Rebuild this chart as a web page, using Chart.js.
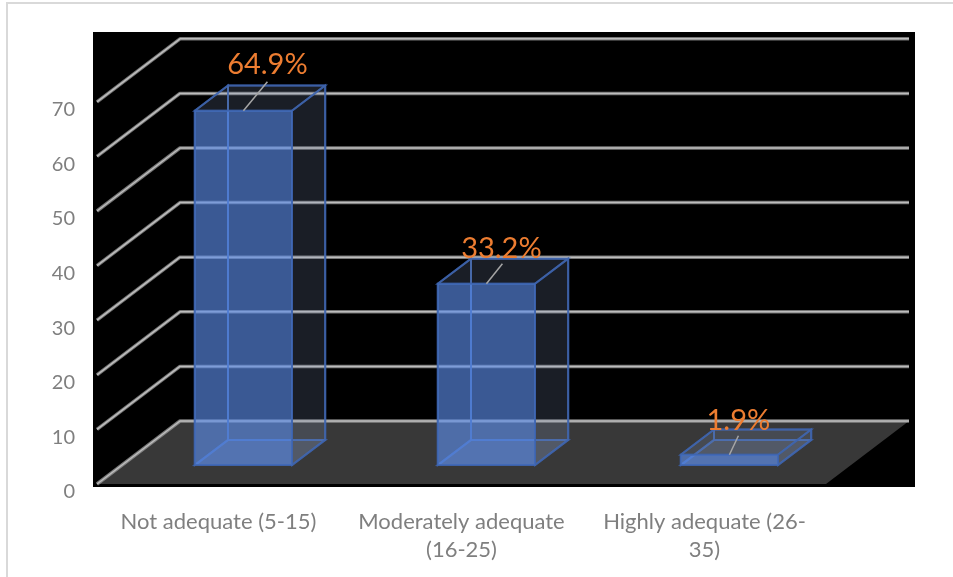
<!DOCTYPE html>
<html>
<head>
<meta charset="utf-8">
<style>
  html, body { margin: 0; padding: 0; background: #fff; }
  #wrap { position: relative; width: 953px; height: 577px; overflow: hidden; }
  #chart { display: block; }
</style>
<script src="https://cdn.jsdelivr.net/npm/chart.js@4"></script>
</head>
<body>
<div id="wrap"><canvas id="chart" width="953" height="577"></canvas></div>
<script>
const categories = [
  'Not adequate (5-15)',
  ['Moderately adequate', '(16-25)'],
  ['Highly adequate (26-', '35)'],
];
const percentValues = [64.9, 33.2, 1.9];
const valueLabels = ['64.9%', '33.2%', '1.9%'];
const axisTicks = ['0', '10', '20', '30', '40', '50', '60', '70'];

// how far the label sits from the middle of the bar's front top edge
const leaderEnds = [[24, -29], [16, -20], [9, -19]];
const labelCentres = [[24, -46], [15, -35], [9, -34]];

// floor depth in pixels, bars stand between these two depth fractions
const DEPTH_X = 83;
const DEPTH_Y = 63;
const BAR_FRONT = 0.3;
const BAR_BACK = 0.7;

const SIDE_FILL = 'rgba(130, 150, 190, 0.2)';
const FRONT_FILL = 'rgba(90, 140, 231, 0.64)';
const EDGE = 'rgba(62, 100, 175, 0.75)';

function poly(ctx, points, fill, stroke) {
  ctx.beginPath();
  points.forEach((p, i) => (i ? ctx.lineTo(p[0], p[1]) : ctx.moveTo(p[0], p[1])));
  ctx.closePath();
  if (fill) {
    ctx.fillStyle = fill;
    ctx.fill();
  }
  if (stroke) {
    ctx.strokeStyle = stroke;
    ctx.lineWidth = 2;
    ctx.stroke();
  }
}

const stagePlugin = {
  id: 'stage',
  beforeDatasetsDraw(chart) {
    const { ctx, chartArea: area, scales: { y } } = chart;
    ctx.save();

    // page frame
    ctx.fillStyle = '#d9d9d9';
    ctx.fillRect(6, 2, 947, 2);
    ctx.fillRect(6, 2, 2, 575);

    ctx.fillStyle = '#000';
    ctx.fillRect(93, 32, 822, 455);

    const y0 = y.getPixelForValue(0);
    poly(ctx, [
      [area.left, y0],
      [area.right, y0],
      [area.right + DEPTH_X, y0 - DEPTH_Y],
      [area.left + DEPTH_X, y0 - DEPTH_Y],
    ], '#383838');

    // wall gridlines, one bent line per tick
    ctx.lineJoin = 'round';
    y.ticks.forEach((tick) => {
      const py = y.getPixelForValue(tick.value);
      ctx.beginPath();
      ctx.moveTo(area.left, py);
      ctx.lineTo(area.left + DEPTH_X, py - DEPTH_Y);
      ctx.lineTo(area.right + DEPTH_X, py - DEPTH_Y);
      ctx.strokeStyle = 'rgba(166, 166, 166, 0.7)';
      ctx.lineWidth = 3.5;
      ctx.stroke();
      ctx.strokeStyle = '#bdbdbd';
      ctx.lineWidth = 1.5;
      ctx.stroke();
    });
    ctx.restore();
  },
  afterDatasetsDraw(chart) {
    const { ctx } = chart;
    ctx.save();
    chart.getDatasetMeta(0).data.forEach((bar) => {
      const left = bar.x - bar.width / 2;
      const right = bar.x + bar.width / 2;
      const at = (px, py, d) => [px + d * DEPTH_X, py - d * DEPTH_Y];

      const fbl = at(left, bar.base, BAR_FRONT);
      const fbr = at(right, bar.base, BAR_FRONT);
      const ftl = at(left, bar.y, BAR_FRONT);
      const ftr = at(right, bar.y, BAR_FRONT);
      const bbl = at(left, bar.base, BAR_BACK);
      const bbr = at(right, bar.base, BAR_BACK);
      const btl = at(left, bar.y, BAR_BACK);
      const btr = at(right, bar.y, BAR_BACK);

      poly(ctx, [bbl, bbr, btr, btl], null, EDGE);
      poly(ctx, [fbl, bbl, btl, ftl], null, EDGE);
      poly(ctx, [fbl, fbr, bbr, bbl], SIDE_FILL, EDGE);
      poly(ctx, [fbr, bbr, btr, ftr], SIDE_FILL, EDGE);
      poly(ctx, [ftl, ftr, btr, btl], SIDE_FILL, EDGE);
      poly(ctx, [fbl, fbr, ftr, ftl], FRONT_FILL, EDGE);
    });

    // leader lines and value labels go on top of the boxes
    ctx.font = '29px Lato';
    ctx.textAlign = 'center';
    ctx.textBaseline = 'middle';
    chart.getDatasetMeta(0).data.forEach((bar, i) => {
      const mid = bar.x + BAR_FRONT * DEPTH_X;
      const top = bar.y - BAR_FRONT * DEPTH_Y;
      ctx.strokeStyle = '#a6a6a6';
      ctx.lineWidth = 1.5;
      ctx.beginPath();
      ctx.moveTo(mid, top);
      ctx.lineTo(mid + leaderEnds[i][0], top + leaderEnds[i][1]);
      ctx.stroke();
      ctx.fillStyle = '#ed7d31';
      ctx.fillText(valueLabels[i], mid + labelCentres[i][0], top + labelCentres[i][1]);
    });
    ctx.restore();
  },
};

new Chart(document.getElementById('chart'), {
  type: 'bar',
  data: {
    labels: categories,
    datasets: [{
      data: percentValues,
      backgroundColor: 'transparent',
      borderWidth: 0,
      categoryPercentage: 1,
      barPercentage: 0.4,
    }],
  },
  plugins: [stagePlugin],
  options: {
    responsive: false,
    animation: false,
    layout: { padding: { left: 0, right: 127, top: 101.8, bottom: 0 } },
    plugins: { legend: { display: false }, tooltip: { enabled: false } },
    scales: {
      x: {
        afterFit: (scale) => { scale.height = 93; },
        grid: { display: false },
        border: { display: false },
        ticks: {
          maxRotation: 0,
          autoSkip: false,
          padding: 16,
          color: '#7f7f7f',
          font: { family: 'Lato', size: 22, lineHeight: 1.27 },
        },
      },
      y: {
        min: 0,
        max: 70,
        afterFit: (scale) => { scale.width = 97; },
        grid: { display: false },
        border: { display: false },
        ticks: {
          stepSize: 10,
          padding: 14,
          labelOffset: 8,
          color: '#7f7f7f',
          font: { family: 'Lato', size: 20 },
          callback: (value) => axisTicks[value / 10],
        },
      },
    },
  },
});
</script>
</body>
</html>
